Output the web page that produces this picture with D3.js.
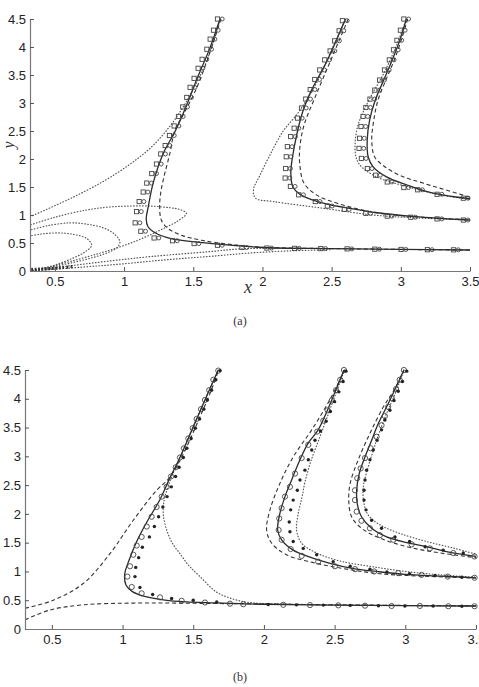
<!DOCTYPE html>
<html>
<head>
<meta charset="utf-8">
<script src="https://cdn.jsdelivr.net/npm/d3@7"></script>
<style>
body { margin: 0; background: #fff; }
svg { display: block; }
</style>
</head>
<body>
<div id="picture"></div>
<script>
// tick values shared by both panels
var yTicks = [0, 0.5, 1, 1.5, 2, 2.5, 3, 3.5, 4, 4.5];
var xTicks = [0.5, 1, 1.5, 2, 2.5, 3, 3.5];

// ---- panel (a) ----
var aSolid1 = [[1.693,4.5],[1.62,3.98],[1.53,3.45],[1.45,2.95],[1.37,2.5],[1.283,2.1],[1.21,1.57],[1.175,1.15],[1.16,0.93],[1.173,0.79],[1.233,0.67],[1.34,0.58],[1.51,0.52],[1.7,0.475],[2.0,0.42],[2.5,0.40],[3.0,0.385],[3.5,0.375]];
var aSolid2 = [[2.6,4.5],[2.47,3.77],[2.355,3.23],[2.295,2.875],[2.25,2.46],[2.215,2.0],[2.205,1.75],[2.22,1.5],[2.27,1.37],[2.35,1.28],[2.46,1.2],[2.63,1.12],[2.83,1.04],[3.1,0.97],[3.5,0.91]];
var aSolid3 = [[3.04,4.5],[2.99,4.1],[2.935,3.75],[2.875,3.4],[2.815,3.05],[2.775,2.7],[2.757,2.34],[2.764,2.04],[2.80,1.86],[2.897,1.68],[3.04,1.54],[3.234,1.39],[3.5,1.29]];

var aDash1 = [[1.70,4.5],[1.62,3.9],[1.53,3.3],[1.43,2.8],[1.368,2.52],[1.331,2.1],[1.29,1.7],[1.265,1.4],[1.257,1.15],[1.269,0.91],[1.317,0.76],[1.413,0.64],[1.558,0.55],[1.75,0.48],[2.0,0.425],[2.5,0.40],[3.0,0.385],[3.5,0.375]];
var aDash2 = [[2.62,4.5],[2.5,3.8],[2.38,3.1],[2.3,2.6],[2.27,2.2],[2.27,1.9],[2.3,1.57],[2.39,1.36],[2.54,1.21],[2.8,1.05],[3.1,0.97],[3.5,0.915]];
var aDash3 = [[3.05,4.5],[3.0,4.1],[2.95,3.75],[2.89,3.4],[2.835,3.05],[2.805,2.7],[2.79,2.34],[2.81,2.04],[2.87,1.89],[2.99,1.71],[3.16,1.57],[3.5,1.32]];

var aDotUpper = [[0.32,0.97],[0.6,1.28],[0.85,1.6],[1.05,1.92],[1.2,2.22],[1.32,2.55],[1.42,2.9],[1.5,3.25],[1.58,3.65],[1.64,4.05],[1.695,4.5]];
var aLoop1 = [[0.32,0.0],[0.45,0.07],[0.54,0.14],[0.63,0.23],[0.705,0.32],[0.766,0.46],[0.73,0.58],[0.62,0.66],[0.51,0.68],[0.4,0.66],[0.32,0.625]];
var aLoop2 = [[0.32,0.0],[0.47,0.07],[0.61,0.14],[0.76,0.23],[0.874,0.32],[0.95,0.42],[0.97,0.52],[0.93,0.66],[0.85,0.77],[0.72,0.84],[0.61,0.86],[0.45,0.81],[0.32,0.73]];
var aLoop3 = [[0.32,0.0],[0.47,0.08],[0.61,0.17],[0.8,0.3],[0.97,0.43],[1.1,0.55],[1.21,0.67],[1.31,0.79],[1.38,0.88],[1.45,1.03],[1.40,1.1],[1.33,1.13],[1.19,1.16],[1.043,1.16],[0.88,1.14],[0.73,1.09],[0.5,0.96],[0.32,0.82]];
var aLow1 = [[0.32,0.0],[0.6,0.09],[0.9,0.18],[1.2,0.26],[1.61,0.345],[1.84,0.395],[2.1,0.41]];
var aLow2 = [[0.32,0.0],[0.7,0.07],[1.0,0.13],[1.3,0.2],[1.61,0.26],[1.9,0.32],[2.2,0.36],[2.5,0.38]];
var aDot2 = [[2.6,4.5],[2.5,3.95],[2.41,3.45],[2.33,3.1],[2.25,2.8],[2.15,2.5],[2.06,2.1],[1.98,1.7],[1.935,1.45],[1.95,1.30],[2.08,1.24],[2.44,1.12],[2.8,1.0],[3.1,0.95],[3.5,0.91]];
var aDot3 = [[3.04,4.5],[2.98,4.1],[2.92,3.75],[2.86,3.45],[2.79,3.15],[2.73,2.85],[2.69,2.6],[2.67,2.3],[2.675,2.05],[2.705,1.89],[2.825,1.68],[3.04,1.51],[3.28,1.36],[3.5,1.28]];

var aMarks1 = [[1.693,4.5],[1.664,4.30],[1.64,4.14],[1.616,3.96],[1.582,3.78],[1.553,3.62],[1.524,3.44],[1.495,3.28],[1.471,3.10],[1.442,2.93],[1.411,2.76],[1.38,2.59],[1.346,2.42],[1.315,2.24],[1.283,2.09],[1.252,1.91],[1.218,1.74],[1.182,1.57],[1.156,1.41],[1.127,1.24],[1.108,1.06],[1.098,0.86],[1.139,0.71],[1.235,0.59],[1.368,0.54],[1.524,0.49],[1.693,0.46],[1.87,0.42],[2.05,0.41],[2.25,0.405],[2.44,0.40],[2.63,0.395],[2.83,0.39],[3.02,0.385],[3.21,0.38],[3.40,0.378]];
var aMarks2 = [[2.596,4.47],[2.572,4.29],[2.54,4.11],[2.507,3.93],[2.468,3.77],[2.432,3.59],[2.396,3.42],[2.363,3.24],[2.331,3.07],[2.30,2.91],[2.271,2.73],[2.247,2.55],[2.222,2.40],[2.198,2.22],[2.19,2.04],[2.186,1.83],[2.182,1.66],[2.22,1.51],[2.28,1.36],[2.40,1.24],[2.487,1.16],[2.61,1.10],[2.765,1.03],[2.92,0.98],[3.09,0.96],[3.28,0.93],[3.47,0.91]];
var aMarks3 = [[3.04,4.5],[3.015,4.30],[2.99,4.12],[2.965,3.95],[2.935,3.77],[2.9,3.59],[2.865,3.41],[2.83,3.23],[2.795,3.07],[2.765,2.92],[2.745,2.76],[2.73,2.58],[2.72,2.37],[2.716,2.19],[2.733,2.01],[2.776,1.83],[2.836,1.71],[2.92,1.59],[3.04,1.49],[3.14,1.45],[3.28,1.37],[3.47,1.30]];
var aOriginMarks = [[0.335,0.01],[0.36,0.012],[0.385,0.015],[0.41,0.018],[0.435,0.02],[0.46,0.025],[0.485,0.03],[0.51,0.035],[0.535,0.04],[0.56,0.045],[0.59,0.05],[0.62,0.06]];

// ---- panel (b) ----
var bSolid1 = [[1.677,4.5],[1.583,3.98],[1.496,3.49],[1.406,2.98],[1.33,2.6],[1.265,2.25],[1.17,1.85],[1.10,1.52],[1.05,1.22],[1.015,0.95],[1.025,0.76],[1.07,0.65],[1.15,0.57],[1.30,0.50],[1.453,0.47],[1.666,0.455],[2.0,0.43],[2.5,0.415],[3.0,0.405],[3.5,0.40]];
var bSolid2 = [[2.566,4.5],[2.50,4.1],[2.44,3.75],[2.384,3.46],[2.313,3.23],[2.255,2.94],[2.196,2.59],[2.149,2.30],[2.113,2.01],[2.097,1.72],[2.125,1.55],[2.207,1.37],[2.30,1.27],[2.467,1.14],[2.632,1.05],[2.797,1.0],[3.0,0.95],[3.25,0.92],[3.5,0.89]];
var bSolid3 = [[2.99,4.5],[2.93,4.18],[2.868,3.86],[2.809,3.57],[2.762,3.28],[2.715,2.99],[2.675,2.71],[2.656,2.41],[2.66,2.18],[2.69,1.95],[2.762,1.75],[2.868,1.60],[3.01,1.50],[3.15,1.43],[3.3,1.34],[3.5,1.26]];

var bDashUp = [[0.31,0.36],[0.51,0.50],[0.722,0.79],[0.911,1.31],[1.076,1.89],[1.241,2.41],[1.33,2.62],[1.40,2.9],[1.47,3.25],[1.55,3.7],[1.62,4.1],[1.68,4.5]];
var bDashLow = [[0.31,0.16],[0.487,0.33],[0.722,0.42],[1.076,0.45],[1.78,0.44],[2.5,0.42],[3.0,0.41],[3.5,0.40]];
var bDash2 = [[2.57,4.5],[2.47,4.0],[2.338,3.46],[2.207,2.99],[2.113,2.53],[2.043,2.07],[2.019,1.72],[2.055,1.49],[2.16,1.29],[2.373,1.14],[2.61,1.03],[2.82,0.96],[3.1,0.92],[3.5,0.885]];
var bDash3 = [[2.99,4.5],[2.92,4.15],[2.845,3.86],[2.75,3.40],[2.667,2.94],[2.61,2.53],[2.60,2.24],[2.62,1.95],[2.69,1.75],[2.82,1.58],[3.01,1.43],[3.25,1.32],[3.5,1.24]];

var bDot1 = [[1.677,4.5],[1.583,3.98],[1.496,3.49],[1.406,2.98],[1.34,2.6],[1.30,2.3],[1.288,2.12],[1.29,1.95],[1.312,1.72],[1.35,1.5],[1.406,1.31],[1.47,1.1],[1.548,0.91],[1.666,0.64],[1.783,0.52],[1.9,0.46],[2.2,0.43],[3.5,0.40]];
var bDot2 = [[2.57,4.5],[2.51,4.1],[2.45,3.7],[2.39,3.3],[2.33,2.9],[2.29,2.55],[2.27,2.3],[2.243,2.01],[2.231,1.72],[2.267,1.49],[2.373,1.32],[2.54,1.18],[2.775,1.08],[3.0,1.0],[3.25,0.94],[3.5,0.9]];
var bDot3 = [[2.99,4.5],[2.93,4.1],[2.86,3.7],[2.80,3.3],[2.76,3.0],[2.738,2.82],[2.703,2.47],[2.708,2.18],[2.738,1.98],[2.82,1.81],[2.962,1.66],[3.15,1.52],[3.35,1.4],[3.5,1.3]];

var bOpen1 = [[1.677,4.49],[1.642,4.33],[1.613,4.15],[1.583,3.98],[1.555,3.82],[1.524,3.65],[1.496,3.49],[1.465,3.31],[1.434,3.14],[1.406,2.98],[1.376,2.81],[1.343,2.65],[1.312,2.47],[1.277,2.30],[1.241,2.12],[1.206,1.95],[1.171,1.78],[1.135,1.60],[1.10,1.45],[1.076,1.29],[1.053,1.09],[1.034,0.91],[1.065,0.73],[1.135,0.62],[1.265,0.55],[1.418,0.49],[1.583,0.46],[1.76,0.44],[1.854,0.43],[2.137,0.42],[2.326,0.415],[2.526,0.41],[2.715,0.405],[2.903,0.40],[3.103,0.40],[3.304,0.395],[3.49,0.395]];
var bFill1 = [[1.69,4.49],[1.66,4.33],[1.63,4.15],[1.60,3.98],[1.575,3.82],[1.545,3.65],[1.515,3.49],[1.485,3.31],[1.455,3.14],[1.43,2.98],[1.40,2.81],[1.375,2.65],[1.345,2.47],[1.315,2.30],[1.285,2.12],[1.255,1.95],[1.225,1.78],[1.19,1.60],[1.14,1.42],[1.114,1.24],[1.093,1.07],[1.088,0.91],[1.123,0.72],[1.213,0.60],[1.347,0.53],[1.50,0.50],[1.666,0.47],[2.03,0.425],[2.23,0.42],[2.42,0.415],[2.61,0.41],[2.81,0.405],[2.997,0.40],[3.197,0.40],[3.40,0.395]];
var bOpen2 = [[2.566,4.5],[2.54,4.33],[2.51,4.15],[2.48,3.97],[2.45,3.8],[2.42,3.62],[2.377,3.43],[2.314,3.20],[2.267,2.97],[2.22,2.70],[2.184,2.47],[2.149,2.30],[2.125,2.10],[2.108,1.92],[2.104,1.72],[2.125,1.55],[2.189,1.39],[2.267,1.27],[2.384,1.17],[2.502,1.09],[2.644,1.04],[2.78,1.0],[2.95,0.97],[3.115,0.94],[3.30,0.91],[3.49,0.89]];
var bFill2 = [[2.58,4.48],[2.56,4.3],[2.53,4.12],[2.50,3.95],[2.47,3.78],[2.44,3.61],[2.40,3.44],[2.361,3.28],[2.338,3.11],[2.314,2.94],[2.29,2.76],[2.255,2.59],[2.236,2.41],[2.207,2.24],[2.189,2.07],[2.179,1.86],[2.184,1.69],[2.207,1.52],[2.278,1.40],[2.373,1.29],[2.49,1.17],[2.61,1.09],[2.75,1.04],[2.87,0.99],[3.03,0.96],[3.21,0.93],[3.40,0.9]];
var bOpen3 = [[2.99,4.5],[2.96,4.33],[2.935,4.17],[2.905,4.01],[2.879,3.86],[2.855,3.7],[2.832,3.54],[2.797,3.34],[2.755,3.14],[2.715,2.97],[2.684,2.79],[2.66,2.62],[2.644,2.41],[2.644,2.24],[2.656,2.04],[2.69,1.88],[2.75,1.75],[2.82,1.63],[2.915,1.55],[3.045,1.47],[3.174,1.40],[3.339,1.32],[3.49,1.26]];
var bFill3 = [[3.01,4.48],[2.98,4.3],[2.95,4.13],[2.92,3.97],[2.891,3.80],[2.856,3.63],[2.832,3.46],[2.80,3.28],[2.773,3.11],[2.75,2.94],[2.726,2.76],[2.715,2.59],[2.708,2.41],[2.708,2.24],[2.722,2.07],[2.762,1.89],[2.832,1.75],[2.927,1.60],[3.03,1.52],[3.14,1.43],[3.268,1.37],[3.41,1.32]];

var lineStyles = {
    solid:  { stroke: "#2b2b2b", width: 1.3, dash: null },
    dashed: { stroke: "#333", width: 1.1, dash: "4,2.8" },
    dotted: { stroke: "#555", width: 1.2, dash: "0.6,2.4" }
};

function draw() {
    "use strict";

    var width = 479, height = 687;

    var svg = d3.select("#picture")
        .append("svg")
        .attr("width", width)
        .attr("height", height);

    function panel(name, xDomain, xRange, yRange, lines, marks, withLabels) {
        var x_scale = d3.scaleLinear().domain(xDomain).range(xRange);
        var y_scale = d3.scaleLinear().domain([0, 4.5]).range(yRange);

        var clipId = "clip_" + name;
        svg.append("clipPath").attr("id", clipId)
            .append("rect")
            .attr("x", xRange[0])
            .attr("y", yRange[1] - 1)
            .attr("width", xRange[1] - xRange[0] + 1)
            .attr("height", yRange[0] - yRange[1] + 1);

        var line = d3.line()
            .x(function (d) { return x_scale(d[0]); })
            .y(function (d) { return y_scale(d[1]); })
            .curve(d3.curveCatmullRom.alpha(0.5));

        var g = svg.append("g").attr("clip-path", "url(#" + clipId + ")");
        lines.forEach(function (l) {
            var s = lineStyles[l.type];
            g.append("path")
                .attr("d", line(l.data))
                .attr("fill", "none")
                .attr("stroke", s.stroke)
                .attr("stroke-width", s.width)
                .attr("stroke-linecap", l.type === "dotted" ? "round" : "butt")
                .attr("stroke-dasharray", s.dash);
        });

        var m = svg.append("g");
        marks.forEach(function (mk) {
            var sel = m.append("g").selectAll("g")
                .data(mk.data)
                .enter()
                .append("g")
                .attr("transform", function (d) {
                    return "translate(" + x_scale(d[0]) + "," + y_scale(d[1]) + ")";
                });
            if (mk.type === "square") {
                sel.append("rect")
                    .attr("x", -4.6).attr("y", -2.1)
                    .attr("width", 4.2).attr("height", 4.2)
                    .attr("fill", "none").attr("stroke", "#444").attr("stroke-width", 0.9);
                sel.append("circle")
                    .attr("cx", 2.2).attr("r", 2)
                    .attr("fill", "none").attr("stroke", "#444").attr("stroke-width", 0.9);
            } else if (mk.type === "tick") {
                sel.append("rect")
                    .attr("x", -0.9).attr("y", -2.6)
                    .attr("width", 1.8).attr("height", 3.2)
                    .attr("fill", "#333");
            } else if (mk.type === "open") {
                sel.append("circle")
                    .attr("r", 2.6)
                    .attr("fill", "none").attr("stroke", "#444").attr("stroke-width", 0.9);
            } else {
                sel.append("circle")
                    .attr("r", 1.7)
                    .attr("fill", "#222");
            }
        });

        var y_axis = d3.axisLeft(y_scale)
            .tickValues(yTicks)
            .tickFormat(d3.format("~g"))
            .tickSizeInner(-4).tickSizeOuter(0).tickPadding(4);
        var x_axis = d3.axisBottom(x_scale)
            .tickValues(xTicks)
            .tickFormat(d3.format("~g"))
            .tickSizeInner(-4).tickSizeOuter(0).tickPadding(6);

        var ya = svg.append("g")
            .attr("class", "y_axis")
            .attr("transform", "translate(" + xRange[0] + ",0)")
            .call(y_axis);
        var xa = svg.append("g")
            .attr("class", "x_axis")
            .attr("transform", "translate(0," + yRange[0] + ")")
            .call(x_axis);

        [ya, xa].forEach(function (a) {
            a.select(".domain").attr("stroke", "#777").attr("stroke-width", 1.2);
            a.selectAll(".tick line").attr("stroke", "#555");
            a.selectAll("text")
                .attr("fill", "#222")
                .style("font-family", "'Liberation Sans', Arial, sans-serif")
                .style("font-size", "13px");
        });

        if (withLabels) {
            svg.append("text")
                .text("x")
                .attr("x", 248).attr("y", yRange[0] + 22)
                .attr("text-anchor", "middle")
                .style("font-family", "'Liberation Serif', 'DejaVu Serif', serif")
                .style("font-style", "italic")
                .style("font-size", "18px")
                .attr("fill", "#333");
            svg.append("text")
                .text("y")
                .attr("transform", "translate(14,145) rotate(-90)")
                .attr("text-anchor", "middle")
                .style("font-family", "'Liberation Serif', 'DejaVu Serif', serif")
                .style("font-style", "italic")
                .style("font-size", "16px")
                .attr("fill", "#333");
        }
    }

    panel("a", [0.32, 3.5], [30, 470], [271, 19],
        [
            { type: "dotted", data: aDotUpper },
            { type: "dotted", data: aLoop1 },
            { type: "dotted", data: aLoop2 },
            { type: "dotted", data: aLoop3 },
            { type: "dotted", data: aLow1 },
            { type: "dotted", data: aLow2 },
            { type: "dotted", data: aDot2 },
            { type: "dotted", data: aDot3 },
            { type: "dashed", data: aDash1 },
            { type: "dashed", data: aDash2 },
            { type: "dashed", data: aDash3 },
            { type: "solid", data: aSolid1 },
            { type: "solid", data: aSolid2 },
            { type: "solid", data: aSolid3 }
        ],
        [
            { type: "square", data: aMarks1 },
            { type: "square", data: aMarks2 },
            { type: "square", data: aMarks3 },
            { type: "tick", data: aOriginMarks }
        ], true);

    panel("b", [0.31, 3.5], [25, 476], [629, 370],
        [
            { type: "dotted", data: bDot1 },
            { type: "dotted", data: bDot2 },
            { type: "dotted", data: bDot3 },
            { type: "dashed", data: bDashUp },
            { type: "dashed", data: bDashLow },
            { type: "dashed", data: bDash2 },
            { type: "dashed", data: bDash3 },
            { type: "solid", data: bSolid1 },
            { type: "solid", data: bSolid2 },
            { type: "solid", data: bSolid3 }
        ],
        [
            { type: "open", data: bOpen1 },
            { type: "open", data: bOpen2 },
            { type: "open", data: bOpen3 },
            { type: "fill", data: bFill1 },
            { type: "fill", data: bFill2 },
            { type: "fill", data: bFill3 }
        ], false);

    // captions
    svg.append("text").text("(a)")
        .attr("x", 240).attr("y", 325)
        .attr("text-anchor", "middle")
        .style("font-family", "'Liberation Serif', serif")
        .style("font-size", "12px")
        .attr("fill", "#333");
    svg.append("text").text("(b)")
        .attr("x", 240).attr("y", 681)
        .attr("text-anchor", "middle")
        .style("font-family", "'Liberation Serif', serif")
        .style("font-size", "12px")
        .attr("fill", "#333");
}

draw();
</script>
</body>
</html>
